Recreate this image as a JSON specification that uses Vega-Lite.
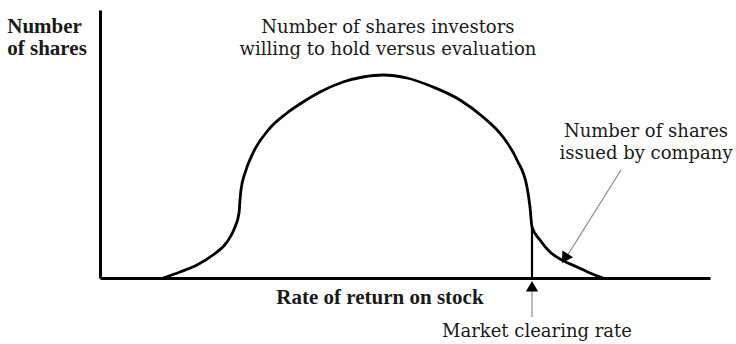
{
  "$schema": "https://vega.github.io/schema/vega-lite/v6.json",
  "width": 610,
  "height": 268,
  "autosize": {"type": "none"},
  "padding": {"left": 100, "top": 10, "right": 26, "bottom": 66},
  "background": "white",
  "config": {"view": {"stroke": null}, "font": "DejaVu Serif"},
  "datasets": {
    "curve": [
      {"x": 10.33, "y": 0},
      {"x": 13.11, "y": 2.24},
      {"x": 15.90, "y": 4.85},
      {"x": 18.52, "y": 8.58},
      {"x": 20.82, "y": 13.43},
      {"x": 22.13, "y": 19.03},
      {"x": 22.79, "y": 24.25},
      {"x": 22.95, "y": 29.10},
      {"x": 23.11, "y": 32.84},
      {"x": 23.77, "y": 39.18},
      {"x": 25.08, "y": 46.64},
      {"x": 27.87, "y": 55.97},
      {"x": 30.66, "y": 61.57},
      {"x": 33.28, "y": 65.67},
      {"x": 36.07, "y": 69.40},
      {"x": 39.84, "y": 73.13},
      {"x": 43.11, "y": 75.00},
      {"x": 46.39, "y": 75.75},
      {"x": 50.33, "y": 74.63},
      {"x": 54.59, "y": 71.27},
      {"x": 59.02, "y": 66.42},
      {"x": 62.79, "y": 60.07},
      {"x": 66.07, "y": 52.61},
      {"x": 68.36, "y": 44.03},
      {"x": 70.00, "y": 33.96},
      {"x": 70.49, "y": 26.49},
      {"x": 70.82, "y": 19.03},
      {"x": 72.13, "y": 14.18},
      {"x": 73.77, "y": 9.70},
      {"x": 75.74, "y": 6.72},
      {"x": 78.20, "y": 4.10},
      {"x": 80.33, "y": 1.87},
      {"x": 82.46, "y": 0}
    ],
    "supply": [{"x": 70.82, "y": 0, "y2": 19.03}],
    "shafts": [
      {"x": 70.82, "y": -14.55, "x2": 70.82, "y2": -4.48},
      {"x": 85.41, "y": 40.30, "x2": 76.4, "y2": 7.6}
    ],
    "headUp": [{"x": 70.82, "y": -3.1}],
    "headDiag": [{"x": 76.2, "y": 7.3}],
    "centerText": [
      {"x": 47.2, "y": 91.42, "label": "Number of shares investors"},
      {"x": 47.2, "y": 83.21, "label": "willing to hold versus evaluation"},
      {"x": 89.51, "y": 52.61, "label": "Number of shares"},
      {"x": 89.51, "y": 44.40, "label": "issued by company"},
      {"x": 71.64, "y": -22.01, "label": "Market clearing rate"}
    ],
    "leftBold": [
      {"x": -15.2, "y": 91.42, "label": "Number"},
      {"x": -15.2, "y": 83.21, "label": "of shares"}
    ],
    "centerBold": [
      {"x": 45.9, "y": -9.70, "label": "Rate of return on stock"}
    ]
  },
  "encoding": {
    "x": {
      "field": "x",
      "type": "quantitative",
      "scale": {"domain": [0, 100], "nice": false, "zero": false},
      "axis": {"domain": true, "domainColor": "black", "domainWidth": 3, "ticks": false, "labels": false, "grid": false, "title": null}
    },
    "y": {
      "field": "y",
      "type": "quantitative",
      "scale": {"domain": [0, 100], "nice": false, "zero": false},
      "axis": {"domain": true, "domainColor": "black", "domainWidth": 3, "ticks": false, "labels": false, "grid": false, "title": null}
    }
  },
  "layer": [
    {
      "data": {"name": "curve"},
      "mark": {"type": "line", "interpolate": "monotone", "color": "black", "strokeWidth": 2.8},
      "encoding": {}
    },
    {
      "data": {"name": "supply"},
      "mark": {"type": "rule", "color": "black", "strokeWidth": 2.2},
      "encoding": {"y2": {"field": "y2"}}
    },
    {
      "data": {"name": "shafts"},
      "mark": {"type": "rule", "color": "#8a8a8a", "strokeWidth": 1.2},
      "encoding": {"x2": {"field": "x2"}, "y2": {"field": "y2"}}
    },
    {
      "data": {"name": "headUp"},
      "mark": {"type": "point", "shape": "triangle-up", "filled": true, "color": "black", "opacity": 1, "size": 150},
      "encoding": {}
    },
    {
      "data": {"name": "headDiag"},
      "mark": {"type": "point", "shape": "triangle-up", "filled": true, "color": "black", "opacity": 1, "size": 160, "angle": 212.5},
      "encoding": {}
    },
    {
      "data": {"name": "centerText"},
      "mark": {"type": "text", "font": "DejaVu Serif", "fontSize": 18, "align": "center", "baseline": "alphabetic", "color": "#1a1a1a"},
      "encoding": {"text": {"field": "label"}}
    },
    {
      "data": {"name": "leftBold"},
      "mark": {"type": "text", "font": "Liberation Serif", "fontSize": 21, "fontWeight": "bold", "align": "left", "baseline": "alphabetic", "color": "#1a1a1a"},
      "encoding": {"text": {"field": "label"}}
    },
    {
      "data": {"name": "centerBold"},
      "mark": {"type": "text", "font": "Liberation Serif", "fontSize": 21, "fontWeight": "bold", "align": "center", "baseline": "alphabetic", "color": "#1a1a1a"},
      "encoding": {"text": {"field": "label"}}
    }
  ]
}
